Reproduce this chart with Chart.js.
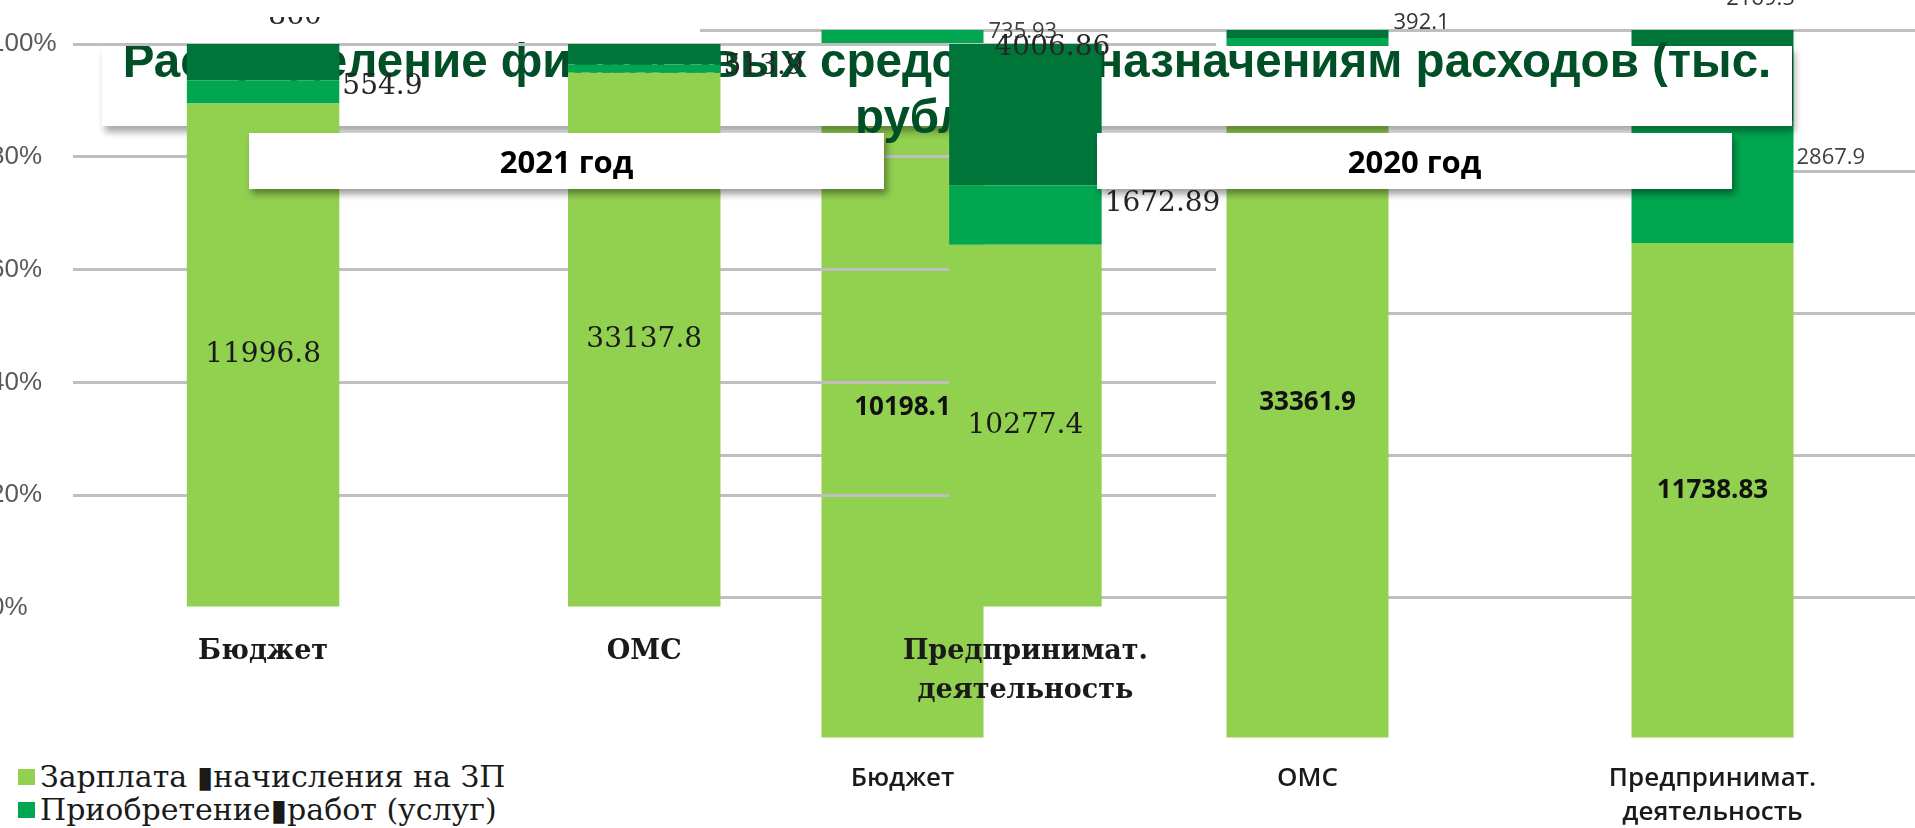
<!DOCTYPE html>
<html lang="ru">
<head>
<meta charset="utf-8">
<script src="https://cdn.jsdelivr.net/npm/chart.js@4.4.1/dist/chart.umd.min.js"></script>
<style>
  html, body { margin: 0; padding: 0; background: #fff; }
  body { width: 1915px; height: 828px; position: relative; overflow: hidden; }
  canvas { position: absolute; }
  #chart2020 { left: 700px; top: 0; z-index: 1; }
  #titleBox { position: absolute; left: 102px; top: 46px; width: 1690px; height: 80px; background: #fff;
              box-shadow: 3px 6px 7px rgba(0,0,0,0.35); z-index: 2; }
  #title { position: absolute; left: 102px; top: 33px; width: 1690px; text-align: center; white-space: nowrap;
           font: bold 47.5px "Liberation Sans", Arial, sans-serif; line-height: 56px; color: #004f27; z-index: 2; }
  #chart2021 { left: -10px; top: 17px; z-index: 3; }
  .year { position: absolute; top: 133px; height: 56px; background: #fff; box-shadow: 3px 5px 7px rgba(0,0,0,0.4);
          z-index: 4; font: bold 31px "Open Sans", sans-serif; color: #000;
          display: flex; align-items: center; justify-content: center; }
  #year2021 { left: 249px; width: 635px; }
  #year2020 { left: 1097px; width: 635px; }
  #legend { position: absolute; left: 18px; top: 760px; z-index: 4; font: 30px "DejaVu Serif", serif; color: #1a1a1a; }
  #legend div { display: flex; align-items: center; height: 33px; white-space: nowrap; }
  #legend span.box { display: inline-block; width: 17px; height: 16px; margin-right: 5px; }
</style>
</head>
<body>
<canvas id="chart2020" width="1215" height="828"></canvas>
<div id="titleBox"></div>
<div id="title">Распределение финансовых средств по назначениям расходов (тыс.<br>рублей)</div>
<canvas id="chart2021" width="1236" height="723"></canvas>
<div class="year" id="year2021">2021 год</div>
<div class="year" id="year2020">2020 год</div>
<div id="legend"></div>

<script>
// Категории и подписи
const categories2021 = ['Бюджет', 'ОМС', ['Предпринимат.', 'деятельность']];
const categories2020 = ['Бюджет', 'ОМС', ['Предпринимат.', 'деятельность']];
const seriesNames = ['Зарплата \u25AEначисления на ЗП', 'Приобретение\u25AEработ (услуг)', 'Прочие расходы'];
const seriesColors = ['#92d050', '#00a650', '#00753a'];
const percentTicks = [0, 20, 40, 60, 80, 100];

// Значения 2021 (тыс. руб.)
const salary2021 = [11996.8, 33137.8, 10277.4];
const works2021 = [554.9, 513.9, 1672.89];
const other2021 = [860, 1266, 4006.86];

// Значения 2020 (тыс. руб.)
const salary2020 = [10198.1, 33361.9, 11738.83];
const works2020 = [735.93, 1500, 2867.9];
const other2020 = [0, 392.1, 2169.5];

// Перевод в проценты для 100% гистограммы
function toPercent(series) {
    const totals = series[0].map((_, j) => series.reduce((s, arr) => s + arr[j], 0));
    return series.map(arr => arr.map((v, j) => v / totals[j] * 100));
}

// Подписи значений на сегментах
// c - по центру, r - справа от столбца, rt / rs - справа у верхнего края,
// a - над столбцом, t - на верхнем крае, n - без подписи
const valueLabels = {
    id: 'valueLabels',
    afterDatasetsDraw(chart, args, opts) {
        const ctx = chart.ctx;
        chart.data.datasets.forEach((ds, i) => {
            const spec = opts.spots[i];
            chart.getDatasetMeta(i).data.forEach((bar, j) => {
                const mode = spec.modes[j];
                if (mode === 'n') return;
                const txt = String(ds.raw[j]);
                const p = bar.getProps(['x', 'y', 'base', 'width'], true);
                let x = p.x, y = (p.y + p.base) / 2;
                ctx.save();
                ctx.font = spec.font;
                ctx.fillStyle = spec.color;
                ctx.textAlign = 'center';
                ctx.textBaseline = 'middle';
                if (mode === 'r') {
                    x = p.x + p.width / 2 + 3;
                    y = p.y + (p.base - p.y) * 0.3;
                    ctx.textAlign = 'left';
                } else if (mode === 'rt' || mode === 'rs') {
                    x = p.x + p.width / 2 + 5;
                    y = mode === 'rt' ? p.y - 7 : p.y + 2;
                    ctx.textAlign = 'left';
                } else if (mode === 'a') {
                    x = p.x + opts.aboveShift;
                    y = p.y - opts.aboveGap;
                    ctx.textBaseline = 'alphabetic';
                } else if (mode === 't') {
                    x = p.x + 27;
                    y = p.y + 4;
                }
                ctx.fillText(txt, x, y);
                ctx.restore();
            });
        });
    }
};

function gridColor(c) {
    return c.tick && c.tick.value === 0 ? 'rgba(0,0,0,0)' : '#bfbfbf';
}

function buildChart(id, cats, series, opt) {
    const pct = toPercent(series);
    const datasets = series.map((arr, i) => ({
        label: seriesNames[i],
        data: pct[i],
        raw: arr,
        backgroundColor: seriesColors[i],
        borderWidth: 0,
        barPercentage: 0.5,
        categoryPercentage: 0.8
    }));
    return new Chart(document.getElementById(id).getContext('2d'), {
        type: 'bar',
        data: { labels: cats, datasets },
        options: {
            responsive: false,
            animation: false,
            layout: { padding: { top: opt.padTop, left: 0, right: opt.padRight, bottom: 0 } },
            scales: {
                x: {
                    stacked: true,
                    grid: { display: false },
                    border: { display: false },
                    ticks: { font: opt.xFont, color: '#1a1a1a', padding: opt.xPad, maxRotation: 0, autoSkip: false },
                    afterFit(s) { s.height = opt.xHeight; }
                },
                y: {
                    stacked: true,
                    min: percentTicks[0],
                    max: percentTicks[percentTicks.length - 1],
                    afterBuildTicks(s) { s.ticks = percentTicks.map(v => ({ value: v })); },
                    grid: { color: gridColor, lineWidth: 3, drawTicks: false },
                    border: { display: false },
                    ticks: {
                        display: opt.yTicks,
                        crossAlign: 'far',
                        padding: 0,
                        color: '#595959',
                        font: { family: 'Liberation Sans', size: 26 },
                        callback: v => v + '%'
                    },
                    afterFit(s) { s.width = opt.yWidth; }
                }
            },
            plugins: {
                legend: { display: false },
                tooltip: { enabled: false },
                valueLabels: { spots: opt.spots, aboveGap: opt.aboveGap, aboveShift: opt.aboveShift }
            }
        },
        plugins: [valueLabels]
    });
}

const serif = '28px "DejaVu Serif", serif';
buildChart('chart2021', categories2021, [salary2021, works2021, other2021], {
    padTop: 27, padRight: 10, xHeight: 132, yWidth: 82.5, yTicks: true, xPad: 16,
    xFont: { family: 'DejaVu Serif', size: 27, weight: 'bold', lineHeight: 1.45 },
    aboveGap: 20, aboveShift: 32,
    spots: [
        { modes: ['c', 'c', 'c'], font: serif, color: '#1a1a1a' },
        { modes: ['r', 'r', 'r'], font: serif, color: '#262626' },
        { modes: ['a', 'n', 't'], font: serif, color: '#262626' }
    ]
});

buildChart('chart2020', categories2020, [salary2020, works2020, other2020], {
    padTop: 30, padRight: 0, xHeight: 89, yWidth: 0, yTicks: false, xPad: 15,
    xFont: { family: 'Open Sans', size: 26, weight: '600', lineHeight: 1.3 },
    aboveGap: 25, aboveShift: 48,
    spots: [
        { modes: ['c', 'c', 'c'], font: 'bold 26px "Open Sans", sans-serif', color: '#111' },
        { modes: ['rs', 'n', 'r'], font: '22px "Open Sans", sans-serif', color: '#404040' },
        { modes: ['n', 'rt', 'a'], font: '22px "Open Sans", sans-serif', color: '#333' }
    ]
});

// Легенда
const legend = document.getElementById('legend');
seriesNames.forEach((name, i) => {
    const row = document.createElement('div');
    row.innerHTML = `<span class="box" style="background:${seriesColors[i]}"></span>${name}`;
    legend.appendChild(row);
});
</script>
</body>
</html>
